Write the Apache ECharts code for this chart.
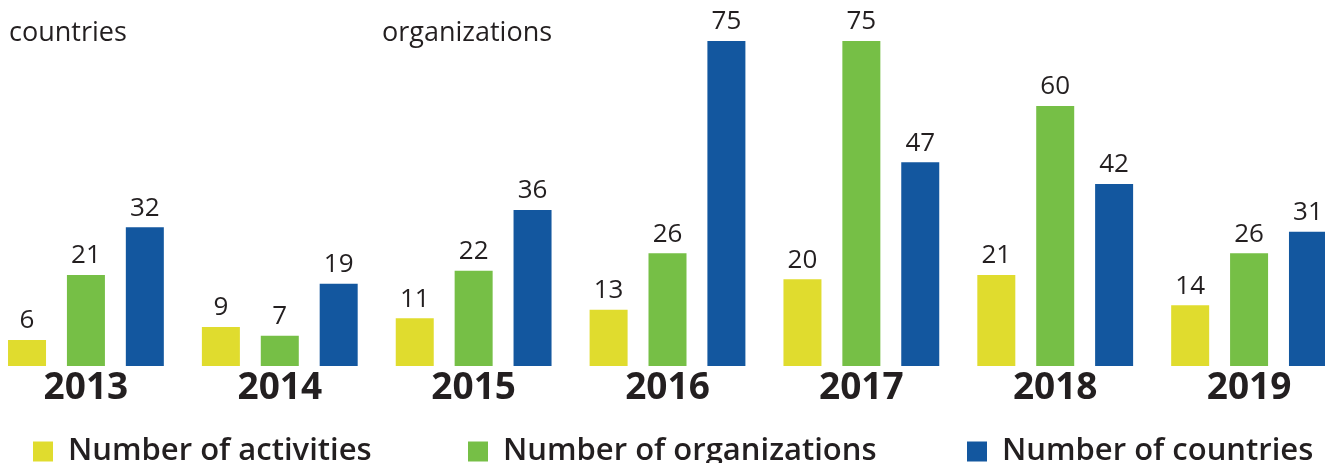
<!DOCTYPE html>
<html>
<head>
<meta charset="utf-8">
<script src="https://cdn.jsdelivr.net/npm/echarts@6/dist/echarts.min.js"></script>
<style>
  html, body { margin: 0; padding: 0; background: #fff; overflow: hidden; }
  #chart { width: 1357px; height: 463px; margin-left: -11px; }
</style>
</head>
<body>
<div id="chart"></div>
<script>
    const years = ['2013', '2014', '2015', '2016', '2017', '2018', '2019'];
    const activities = [6, 9, 11, 13, 20, 21, 14];
    const organizations = [21, 7, 22, 26, 75, 60, 26];
    const countries = [32, 19, 36, 75, 47, 42, 31];

    const textColor = '#231f20';
    const font = '"Open Sans", "Noto Sans", sans-serif';

    var chart = echarts.init(document.getElementById('chart'));

    const label = {
        show: true,
        position: 'top',
        distance: 6,
        fontSize: 26,
        fontWeight: 500,
        fontFamily: font,
        color: textColor
    };

    const legendBase = {
        top: 431,
        itemWidth: 20,
        itemHeight: 20,
        icon: 'rect',
        textStyle: {
            fontSize: 31,
            fontWeight: 600,
            fontFamily: font,
            color: textColor,
            padding: [0, 0, 0, 10]
        }
    };

    var option = {
        animation: false,
        grid: {
            left: 0,
            right: 0,
            top: 41,
            bottom: 97
        },
        legend: [
            Object.assign({ left: 39, data: ['Number of activities'] }, legendBase),
            Object.assign({ left: 474, data: ['Number of organizations'] }, legendBase),
            Object.assign({ left: 973, data: ['Number of countries'] }, legendBase)
        ],
        graphic: [
            { type: 'text', left: 20, top: 20, style: { text: 'countries', fontSize: 27, fontFamily: font, fill: textColor } },
            { type: 'text', left: 393, top: 20, style: { text: 'organizations', fontSize: 27, fontFamily: font, fill: textColor } }
        ],
        xAxis: {
            type: 'category',
            data: years,
            axisLine: { show: false },
            axisTick: { show: false },
            axisLabel: {
                margin: 4,
                fontSize: 37,
                fontWeight: 'bold',
                fontFamily: font,
                color: textColor
            }
        },
        yAxis: {
            type: 'value',
            min: 0,
            max: 75,
            show: false,
            splitLine: { show: false }
        },
        series: [
            {
                name: 'Number of activities',
                type: 'bar',
                data: activities,
                barWidth: 38,
                barGap: '55%',
                itemStyle: { color: '#e0dc2e' },
                label: label
            },
            {
                name: 'Number of organizations',
                type: 'bar',
                data: organizations,
                barWidth: 38,
                itemStyle: { color: '#76bf46' },
                label: label
            },
            {
                name: 'Number of countries',
                type: 'bar',
                data: countries,
                barWidth: 38,
                itemStyle: { color: '#13579f' },
                label: label
            }
        ]
    };
    chart.setOption(option);
</script>
</body>
</html>
